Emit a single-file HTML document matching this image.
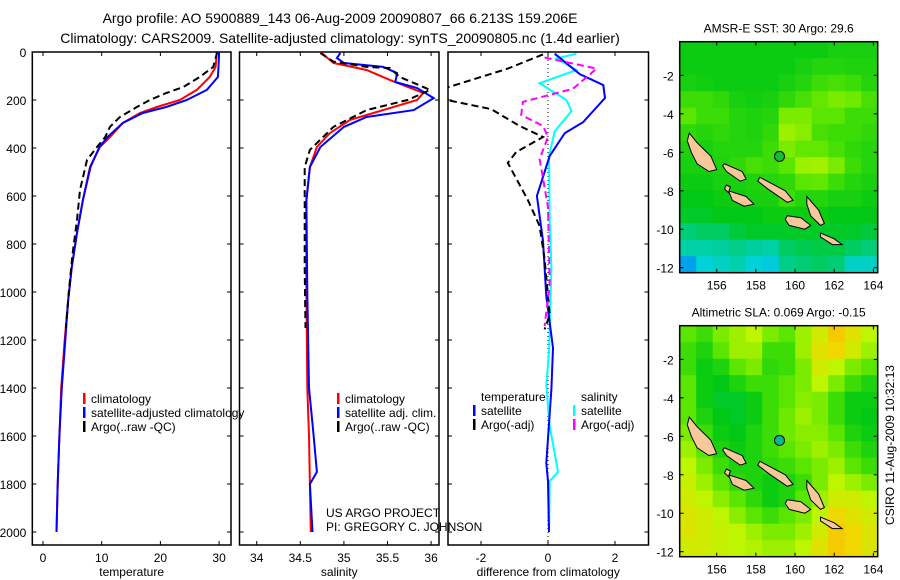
<!DOCTYPE html>
<html><head><meta charset="utf-8"><style>
html,body{margin:0;padding:0;background:#fff;}
svg{display:block;font-family:"Liberation Sans",sans-serif;}
</style></head><body>
<svg id="fig" width="900" height="580" viewBox="0 0 900 580">
<text x="340" y="23" font-size="14" text-anchor="middle">Argo profile: AO 5900889_143 06-Aug-2009 20090807_66 6.213S 159.206E</text>
<text x="340" y="43" font-size="14" text-anchor="middle">Climatology: CARS2009. Satellite-adjusted climatology: synTS_20090805.nc (1.4d earlier)</text>
<g id="g"></g>
</svg>
<script>
// ---------- profile data ----------
const tClimDepth=[0,62,104,158,200,229,254,296,354,396,479,617,754,896,1033,1200,1400,1600,1800,2000];
const tClim=[29.6,29.4,28.4,26.2,23.3,19.4,16.5,13.6,11.4,9.7,8.0,6.8,5.8,4.9,4.3,3.7,3.1,2.8,2.5,2.3];
const tSatDepth=[0,62,104,158,200,229,254,296,354,396,479,617,754,896,1033,1200,1400,1600,1800,2000];
const tSat=[30.0,29.9,29.8,27.9,24.5,21.0,17.0,13.6,11.0,9.6,8.1,6.8,5.8,4.9,4.3,3.8,3.2,2.8,2.5,2.3];
const tArgoDepth=[0,62,104,146,171,200,229,271,312,354,396,450,575,700,850,1000,1150];
const tArgo=[29.7,29.0,26.7,23.9,21.0,18.2,16.0,13.1,11.4,10.6,9.2,7.5,6.3,5.8,5.0,4.4,3.9];

const sClimDepth=[0,46,75,117,171,200,242,283,338,396,479,617,1000,1400,1600,1800,2000];
const sClim=[34.73,34.88,35.26,35.53,35.91,35.84,35.45,35.07,34.84,34.69,34.61,34.57,34.57,34.58,34.6,34.61,34.62];
const sSatDepth=[4,25,46,62,88,125,150,192,242,271,312,396,479,617,1000,1400,1588,1750,1800,2000];
const sSat=[34.96,34.92,35.0,35.45,35.61,35.59,35.84,36.03,35.8,35.26,35.0,34.73,34.61,34.57,34.58,34.6,34.65,34.69,34.61,34.64];
const sArgoDepth=[4,40,62,67,104,158,200,242,312,408,479,700,900,1150];
const sArgo=[34.73,34.88,35.26,35.53,35.64,35.99,35.73,35.26,34.88,34.61,34.55,34.55,34.55,34.56];

const dTSatDepth=[7,92,138,192,246,292,338,433,600,787,1017,1233,1404,1713,1788,2000];
const dTSat=[0.2,0.95,1.65,1.7,1.35,1.05,0.5,0.05,-0.33,-0.15,-0.05,0.15,0.1,-0.05,0,0.03];
const dTArgoDepth=[10,69,161,192,238,308,354,417,462,617,725,863,1096,1156];
const dTArgo=[-0.15,-1.2,-3.3,-3.3,-1.7,-0.85,-0.15,-0.95,-1.2,-0.6,-0.25,-0.1,0.05,-0.1];
const dSSatDepth=[7,27,75,130,200,246,331,433,700,900,1250,1388,1558,1750,1788,2000];
const dSSat=[0.85,0.25,0.85,-0.25,0.55,0.7,0.2,0.03,0.05,0.1,0.03,-0.05,0.05,0.3,0.05,0.03];
const dSArgoDepth=[23,69,153,208,262,308,354,446,646,971,1142];
const dSArgo=[-0.1,1.45,0.75,-0.75,-0.8,-0.15,0,-0.25,0,0.05,-0.1];

const depthTicks=[0,200,400,600,800,1000,1200,1400,1600,1800,2000];
const tTicks=[0,10,20,30];
const sTicks=[34,34.5,35,35.5,36];
const sTickLabels=["34","34.5","35","35.5","36"];
const dTicks=[-2,0,2];

// ---------- map data (values 0..1 on colormap) ----------
const sstGrid=[
[.42,.42,.42,.42,.42,.42,.42,.42,.42,.44,.44,.44],
[.42,.42,.42,.42,.42,.42,.42,.44,.46,.46,.45,.45],
[.44,.43,.42,.42,.42,.42,.44,.46,.5,.52,.5,.46],
[.5,.5,.48,.44,.43,.44,.48,.52,.56,.6,.58,.52],
[.55,.5,.5,.46,.45,.46,.6,.6,.55,.55,.5,.5],
[.48,.46,.48,.46,.45,.48,.65,.62,.52,.5,.5,.48],
[.45,.44,.46,.46,.46,.5,.6,.56,.56,.52,.48,.46],
[.44,.44,.45,.48,.52,.5,.55,.65,.66,.6,.5,.46],
[.42,.42,.44,.44,.45,.46,.48,.55,.56,.5,.46,.44],
[.4,.4,.42,.42,.44,.44,.5,.46,.46,.44,.44,.42],
[.38,.38,.4,.4,.4,.42,.42,.42,.42,.4,.4,.4],
[.3,.32,.32,.36,.38,.38,.38,.38,.38,.38,.38,.36],
[.25,.25,.26,.28,.26,.25,.32,.34,.35,.35,.32,.3],
[.08,.2,.22,.24,.2,.18,.28,.3,.32,.3,.22,.22]];
const slaGrid=[
[.55,.5,.6,.65,.7,.6,.55,.65,.75,.9,.8,.7],
[.5,.45,.55,.65,.65,.5,.5,.65,.8,.85,.75,.65],
[.5,.42,.45,.55,.6,.48,.5,.6,.75,.7,.6,.55],
[.55,.42,.4,.45,.5,.5,.55,.6,.7,.6,.5,.45],
[.55,.42,.38,.38,.42,.5,.55,.62,.6,.5,.42,.42],
[.55,.45,.4,.38,.42,.5,.58,.65,.6,.5,.42,.4],
[.6,.5,.42,.4,.45,.5,.58,.62,.62,.55,.45,.42],
[.65,.55,.45,.42,.45,.5,.55,.6,.65,.6,.5,.45],
[.7,.6,.5,.45,.45,.48,.5,.55,.6,.65,.55,.5],
[.72,.65,.55,.48,.45,.42,.45,.5,.6,.7,.65,.6],
[.75,.7,.62,.55,.48,.42,.45,.55,.65,.75,.75,.7],
[.78,.75,.7,.62,.55,.5,.55,.6,.7,.85,.8,.75],
[.78,.75,.72,.7,.65,.6,.6,.65,.75,.9,.85,.78],
[.75,.75,.72,.7,.68,.65,.65,.7,.8,.9,.85,.78]];
const islandNames=["bougainville","choiseul","santa-isabel","malaita","guadalcanal","makira","new-georgia","vella-lavella"];
const islands=[
[[154.6,-5.0],[155.0,-5.5],[155.7,-6.2],[156.0,-6.9],[155.6,-7.0],[155.0,-6.6],[154.7,-6.0],[154.5,-5.4]],
[[156.4,-6.6],[157.3,-7.0],[157.5,-7.4],[157.2,-7.5],[156.5,-7.0],[156.3,-6.7]],
[[158.2,-7.3],[159.5,-8.0],[159.9,-8.5],[159.6,-8.6],[158.6,-7.9],[158.1,-7.5]],
[[160.6,-8.3],[161.2,-9.0],[161.5,-9.7],[161.3,-9.8],[160.8,-9.3],[160.6,-8.7]],
[[159.6,-9.3],[160.3,-9.4],[160.8,-9.8],[160.5,-10.0],[159.7,-9.8],[159.5,-9.5]],
[[161.3,-10.2],[162.0,-10.5],[162.4,-10.8],[161.9,-10.8],[161.3,-10.4]],
[[156.6,-8.0],[157.5,-8.3],[157.9,-8.7],[157.4,-8.8],[156.8,-8.5]],
[[156.5,-7.7],[156.7,-7.8],[156.6,-8.1],[156.4,-7.9]]];
const floatPos=[159.206,-6.213];
const lonTicks=[156,158,160,162,164];
const latTicks=[-2,-4,-6,-8,-10,-12];

const NS="http://www.w3.org/2000/svg";
const G=document.getElementById('g');
function mk(tag,attrs,parent){const e=document.createElementNS(NS,tag);for(const k in attrs)e.setAttribute(k,attrs[k]);(parent||G).appendChild(e);return e;}

// depth scale shared
const yD=d=>52+d*0.24;
const BOT=545;
const xT=v=>43+v*5.87;
const xS=v=>256.7+(v-34)*87.2;
const xDf=v=>548+v*33.5;

function panel(name,L,R,xs,ticks,labels,xlabel,showY){
  const g=mk('g',{});
  
  
  const cp=mk('clipPath',{id:'cp-'+name},g);
  mk('rect',{x:L,y:52,width:R-L,height:BOT-52},cp);
  const fr=mk('rect',{x:L,y:52,width:R-L,height:BOT-52,fill:'none',stroke:'#000','stroke-width':1.5},g);
  
  
  ticks.forEach((t,i)=>{
    const x=xs(t);
    mk('line',{x1:x,y1:BOT,x2:x,y2:BOT-4,stroke:'#000'},g);
    mk('line',{x1:x,y1:52,x2:x,y2:56,stroke:'#000'},g);
    const tl=mk('text',{x:x,y:BOT+17,'font-size':12,'text-anchor':'middle'},g);
    tl.textContent=labels[i];
    
    
  });
  depthTicks.forEach(d=>{
    const y=yD(d);
    mk('line',{x1:L,y1:y,x2:L+4,y2:y,stroke:'#000'},g);
    mk('line',{x1:R,y1:y,x2:R-4,y2:y,stroke:'#000'},g);
    if(showY){const tl=mk('text',{x:L-6,y:y+5,'font-size':12,'text-anchor':'end'},g);tl.textContent=d;
      
      }
  });
  const xl=mk('text',{x:(L+R)/2,y:576,'font-size':12,'text-anchor':'middle'},g);
  xl.textContent=xlabel;
  
  
  return g;
}
function series(g,panelName,nm,depths,vals,xs,color,w,dash){
  const pts=depths.map((d,i)=>xs(vals[i]).toFixed(1)+','+yD(d).toFixed(1)).join(' ');
  const a={points:pts,fill:'none',stroke:color,'stroke-width':w,'clip-path':'url(#cp-'+panelName+')'};
  if(dash)a['stroke-dasharray']=dash;
  const p=mk('polyline',a,g);
  
  
}
function legend(g,x,y,items,prefix){
  items.forEach((it,i)=>{
    const yy=y+i*14;
    if(it[1]){const b=mk('rect',{x:x,y:yy-10,width:2.5,height:11,fill:it[1]},g);
      
      }
    const t=mk('text',{x:x+8,y:yy,'font-size':12},g);t.textContent=it[0];
    
    
  });
}

// panel 1 temperature
const p1=panel('temperature',32.3,231,xT,tTicks,tTicks.map(String),'temperature',true);
series(p1,'temperature','temp-climatology-line',tClimDepth,tClim,xT,'#f00',2);
series(p1,'temperature','temp-satellite-line',tSatDepth,tSat,xT,'#00f',2);
series(p1,'temperature','temp-argo-line',tArgoDepth,tArgo,xT,'#000',2,'7,4');
legend(p1,83,403,[['climatology','#f00'],['satellite-adjusted climatology','#00f'],['Argo(..raw -QC)','#000']],'temperature');

// panel 2 salinity
const p2=panel('salinity',239.5,439,xS,sTicks,sTickLabels,'salinity',false);
series(p2,'salinity','sal-climatology-line',sClimDepth,sClim,xS,'#f00',2);
series(p2,'salinity','sal-satellite-line',sSatDepth,sSat,xS,'#00f',2);
series(p2,'salinity','sal-argo-line',sArgoDepth,sArgo,xS,'#000',2,'7,4');
legend(p2,337,403,[['climatology','#f00'],['satellite adj. clim.','#00f'],['Argo(..raw -QC)','#000']],'salinity');
let t1=mk('text',{x:326,y:517,'font-size':12},p2);t1.textContent='US ARGO PROJECT';


let t2=mk('text',{x:326,y:531,'font-size':12},p2);t2.textContent='PI: GREGORY C. JOHNSON';



// panel 3 difference
const p3=panel('difference',448,648.5,xDf,dTicks,dTicks.map(String),'difference from climatology',false);
const zl=mk('line',{x1:xDf(0),y1:52,x2:xDf(0),y2:BOT,stroke:'#000','stroke-dasharray':'1,3'},p3);


series(p3,'difference','diff-sal-satellite-line',dSSatDepth,dSSat,xDf,'#0ff',2);
series(p3,'difference','diff-temp-satellite-line',dTSatDepth,dTSat,xDf,'#00f',2);
series(p3,'difference','diff-temp-argo-line',dTArgoDepth,dTArgo,xDf,'#000',2,'7,4');
series(p3,'difference','diff-sal-argo-line',dSArgoDepth,dSArgo,xDf,'#f0f',2,'7,4');
legend(p3,473,401,[['temperature',null],['satellite','#00f'],['Argo(-adj)','#000']],'diff-temperature');
legend(p3,573,401,[['salinity',null],['satellite','#0ff'],['Argo(-adj)','#f0f']],'diff-salinity');

// ---------- maps ----------
const cstops=[[0,[0,130,255]],[0.2,[0,210,215]],[0.4,[0,200,20]],[0.55,[90,230,0]],[0.7,[190,245,0]],[0.85,[240,215,0]],[1,[255,180,0]]];
function cmap(v){for(let i=1;i<cstops.length;i++){if(v<=cstops[i][0]){const a=cstops[i-1],b=cstops[i],f=(v-a[0])/(b[0]-a[0]);return 'rgb('+a[1].map((c,k)=>Math.round(c+(b[1][k]-c)*f)).join(',')+')';}}return 'rgb(255,180,0)';}
function map(name,top,bot,grid,title,circFill){
  const L=679.7,R=877.7;
  const lon0=154.11,lon1=164.22,lat0=-0.25,lat1=-12.26;
  const mx=lo=>L+(lo-lon0)/(lon1-lon0)*(R-L);
  const my=la=>top+(la-lat0)/(lat1-lat0)*(bot-top);
  const g=mk('g',{});
  
  
  const rows=grid.length,cols=grid[0].length,cw=(R-L)/cols,ch=(bot-top)/rows;
  grid.forEach((row,r)=>row.forEach((v,c)=>{
    const cell=mk('rect',{x:(L+c*cw).toFixed(2),y:(top+r*ch).toFixed(2),width:(cw+0.6).toFixed(2),height:(ch+0.6).toFixed(2),fill:cmap(v)},g);
    
    
  }));
  islands.forEach((isl,i)=>{
    const p=mk('polygon',{points:isl.map(q=>mx(q[0]).toFixed(1)+','+my(q[1]).toFixed(1)).join(' '),fill:'#f8c89a',stroke:'#000','stroke-width':1},g);
    
    
  });
  const c=mk('circle',{cx:mx(floatPos[0]),cy:my(floatPos[1]),r:5,fill:circFill,stroke:'#000'},g);
  
  
  const fr=mk('rect',{x:L,y:top,width:R-L,height:bot-top,fill:'none',stroke:'#000','stroke-width':1.5},g);
  
  
  lonTicks.forEach(lo=>{const x=mx(lo);
    mk('line',{x1:x,y1:bot,x2:x,y2:bot-4,stroke:'#000'},g);
    mk('line',{x1:x,y1:top,x2:x,y2:top+4,stroke:'#000'},g);
    const t=mk('text',{x:x,y:bot+17,'font-size':12,'text-anchor':'middle'},g);t.textContent=lo;
    
    });
  latTicks.forEach(la=>{const y=my(la);
    mk('line',{x1:L,y1:y,x2:L+4,y2:y,stroke:'#000'},g);
    mk('line',{x1:R,y1:y,x2:R-4,y2:y,stroke:'#000'},g);
    const t=mk('text',{x:L-6,y:y+5,'font-size':12,'text-anchor':'end'},g);t.textContent=la;
    
    });
  const tt=mk('text',{x:(L+R)/2,y:top-9,'font-size':12,'text-anchor':'middle'},g);tt.textContent=title;
  
  
}
map('sst',41.7,272.7,sstGrid,'AMSR-E SST: 30 Argo: 29.6','#10c030');
map('sla',325.7,556.7,slaGrid,'Altimetric SLA: 0.069 Argo: -0.15','#00b898');
const cs=mk('text',{x:0,y:0,'font-size':12,'text-anchor':'middle',transform:'translate(894,445) rotate(-90)'});
cs.textContent='CSIRO 11-Aug-2009 10:32:13';


</script>
</body></html>
